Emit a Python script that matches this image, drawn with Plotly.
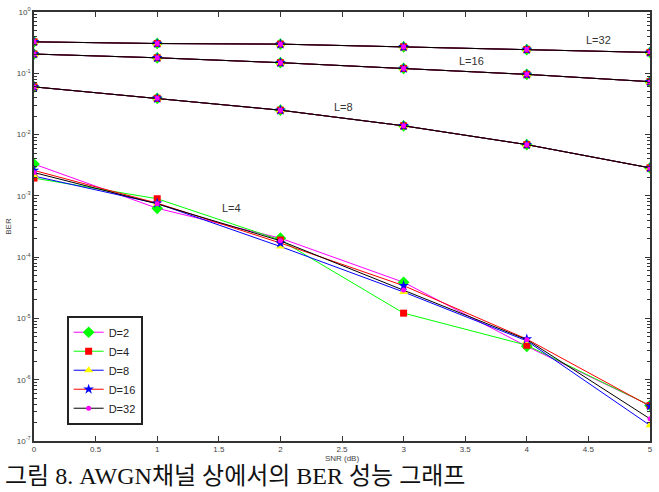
import math
import plotly.graph_objects as go

# ---------------- data ----------------
snr = [0, 1, 2, 3, 4, 5]

# curves where all D values coincide
ber_L32 = [0.326, 0.306, 0.299, 0.270, 0.244, 0.219]
ber_L16 = [0.206, 0.179, 0.149, 0.120, 0.096, 0.073]
ber_L8 = [0.060, 0.039, 0.025, 0.0139, 0.00685, 0.00286]

# L=4 curves, one per D
ber_L4_D2 = [0.0033, 0.000627, 0.000204, 3.89e-5, 3.5e-6, 3.8e-7]
ber_L4_D4 = [0.00195, 0.000897, 0.00019, 1.22e-5, 3.65e-6, 3.8e-7]
ber_L4_D8 = [0.0021, 0.00075, 0.000149, 2.7e-5, 4.3e-6, 1.8e-7]
ber_L4_D16 = [0.0026, 0.00076, 0.00017, 3.43e-5, 4.6e-6, 3.7e-7]
ber_L4_D32 = [0.0024, 0.00074, 0.000185, 2.9e-5, 4.5e-6, 2.3e-7]

series_names = ["D=2", "D=4", "D=8", "D=16", "D=32"]
series_L4 = [ber_L4_D2, ber_L4_D4, ber_L4_D8, ber_L4_D16, ber_L4_D32]

line_colors = ["#ff00ff", "#00ff00", "#0000ff", "#ff0000", "#000000"]
marker_colors = ["#00ff00", "#ff0000", "#ffff00", "#0000ff", "#ff00ff"]
marker_symbols = ["diamond", "square", "triangle-up", "star", "circle"]
marker_sizes = [9, 7, 8, 8, 5]

curve_labels = ["L=4", "L=8", "L=16", "L=32"]
curve_label_x = [1.6, 2.51, 3.55, 4.58]
curve_label_y = [0.00064, 0.0277, 0.158, 0.347]

x_ticks = [0, 0.5, 1, 1.5, 2, 2.5, 3, 3.5, 4, 4.5, 5]
x_ticktext = ["0", "0.5", "1", "1.5", "2", "2.5", "3", "3.5", "4", "4.5", "5"]
y_ticks = [1e-7, 1e-6, 1e-5, 1e-4, 1e-3, 1e-2, 1e-1, 1]
y_ticktext = ["10<sup>-7</sup>", "10<sup>-6</sup>", "10<sup>-5</sup>", "10<sup>-4</sup>",
              "10<sup>-3</sup>", "10<sup>-2</sup>", "10<sup>-1</sup>", "10<sup>0</sup>"]

caption = "그림 8. AWGN채널 상에서의 BER 성능 그래프"

# ---------------- figure ----------------
fig = go.Figure()
for i, name in enumerate(series_names):
    xs, ys = [], []
    for curve in [series_L4[i], ber_L8, ber_L16, ber_L32]:
        xs += snr + [None]
        ys += curve + [None]
    fig.add_trace(go.Scatter(
        x=xs, y=ys, name=name, mode="lines+markers", connectgaps=False,
        line=dict(color=line_colors[i], width=1),
        marker=dict(symbol=marker_symbols[i], size=marker_sizes[i],
                    color=marker_colors[i],
                    line=dict(color=marker_colors[i], width=0)),
    ))

for t, lx, ly in zip(curve_labels, curve_label_x, curve_label_y):
    fig.add_annotation(x=lx, y=math.log10(ly), yref="y", xref="x", text=t, showarrow=False,
                       font=dict(family="Liberation Sans, Arial", size=11, color="#333"))

fig.add_annotation(x=-0.048, y=-0.081, xref="paper", yref="paper", xanchor="left",
                   yanchor="middle", text=caption, showarrow=False, borderpad=0,
                   font=dict(family="Liberation Serif, Noto Sans CJK KR", size=24, color="#111"))

axis_font = dict(family="Liberation Sans, Arial", size=8, color="#444")
fig.update_xaxes(range=[0, 5], tickmode="array", tickvals=x_ticks, ticktext=x_ticktext,
                 ticks="inside", ticklen=5, tickcolor="#333", mirror="ticks",
                 showline=True, linecolor="#333", linewidth=1.5, showgrid=False,
                 zeroline=False, tickfont=axis_font,
                 title=dict(text="SNR (dB)", font=axis_font, standoff=0))
fig.update_yaxes(type="log", range=[-7, 0], tickmode="array", tickvals=y_ticks,
                 ticktext=y_ticktext, ticks="inside", ticklen=5, tickcolor="#333",
                 mirror="ticks", showline=True, linecolor="#333", linewidth=1.5,
                 showgrid=False, zeroline=False, tickfont=axis_font,
                 minor=dict(ticks="inside", ticklen=3, dtick="D1", showgrid=False,
                            tickcolor="#333", tickwidth=1),
                 title=dict(text="BER", font=axis_font, standoff=4))

fig.update_layout(
    width=659, height=492,
    margin=dict(l=34, r=6, t=10, b=51),
    paper_bgcolor="white", plot_bgcolor="white",
    showlegend=True,
    legend=dict(x=0.053, y=0.292, xanchor="left", yanchor="top",
                bgcolor="white", bordercolor="#222", borderwidth=2,
                font=dict(family="Liberation Sans, Arial", size=11, color="#222"),
                itemwidth=30, tracegroupgap=0),
)

fig.write_html("out.html")
